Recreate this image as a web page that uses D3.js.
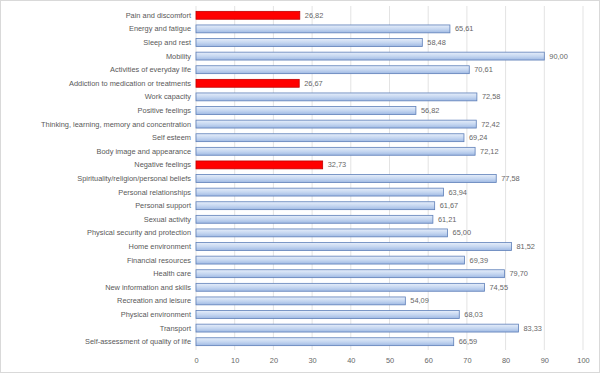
<!DOCTYPE html>
<html><head><meta charset="utf-8">
<script src="https://cdn.jsdelivr.net/npm/d3@7"></script>
<style>body{margin:0;background:#fff}svg{display:block}</style>
</head><body>
<script>
const categories = ["Pain and discomfort","Energy and fatigue","Sleep and rest","Mobility","Activities of everyday life","Addiction to medication or treatments","Work capacity","Positive feelings","Thinking, learning, memory and concentration","Self esteem","Body image and appearance","Negative feelings","Spirituality/religion/personal beliefs","Personal relationships","Personal support","Sexual activity","Physical security and protection","Home environment","Financial resources","Health care","New information and skills","Recreation and leisure","Physical environment","Transport","Self-assessment of quality of life"];
const values = [26.82,65.61,58.48,90.00,70.61,26.67,72.58,56.82,72.42,69.24,72.12,32.73,77.58,63.94,61.67,61.21,65.00,81.52,69.39,79.70,74.55,54.09,68.03,83.33,66.59];
const negative = ["Pain and discomfort","Addiction to medication or treatments","Negative feelings"];
const ticks = [0,10,20,30,40,50,60,70,80,90,100];

const W=600,H=373;
const svg=d3.select("body").append("svg").attr("width",W).attr("height",H);
svg.append("rect").attr("x",0.5).attr("y",0.5).attr("width",W-1).attr("height",H-1).attr("fill","#fff").attr("stroke","#d9d9d9");

const defs=svg.append("defs");
const g1=defs.append("linearGradient").attr("id","blue").attr("x1",0).attr("y1",0).attr("x2",0).attr("y2",1);
g1.append("stop").attr("offset","0%").attr("stop-color","#e6eefa");
g1.append("stop").attr("offset","55%").attr("stop-color","#c3d5f0");
g1.append("stop").attr("offset","100%").attr("stop-color","#9fb9e3");

const x=d3.scaleLinear().domain([0,100]).range([196,583]);
const y=d3.scaleBand().domain(categories).range([8.5,348.5]).paddingInner(0.42).paddingOuter(0.21);
const font="Liberation Sans, Arial, sans-serif";

svg.append("g").selectAll("line").data(ticks).join("line")
  .attr("x1",d=>x(d)).attr("x2",d=>x(d)).attr("y1",6).attr("y2",350)
  .attr("stroke","#e3e3e3").attr("stroke-width",1);

const ax=svg.append("g").attr("transform","translate(0,352)")
  .call(d3.axisBottom(x).tickValues(ticks).tickSize(0).tickPadding(6));
ax.select(".domain").remove();
ax.selectAll("text").attr("font-family",font).attr("font-size",7.4).attr("fill","#666");

const isNeg=d=>negative.includes(d);
const data=categories.map((c,i)=>({c,v:values[i]}));
svg.append("g").selectAll("rect").data(data).join("rect")
  .attr("x",x(0)).attr("y",d=>y(d.c)).attr("width",d=>x(d.v)-x(0)).attr("height",y.bandwidth())
  .attr("fill",d=>isNeg(d.c)?"#ff0000":"url(#blue)")
  .attr("stroke",d=>isNeg(d.c)?"#c00000":"#5e7fb8").attr("stroke-width",0.8);

svg.append("g").selectAll("text").data(data).join("text")
  .attr("x",d=>x(d.v)+5).attr("y",d=>y(d.c)+y.bandwidth()/2).attr("dy","0.35em")
  .attr("font-family",font).attr("font-size",7.4).attr("fill","#666")
  .text(d=>d3.format(".2f")(d.v).replace(".",","));

svg.append("g").selectAll("text").data(categories).join("text")
  .attr("x",191).attr("y",d=>y(d)+y.bandwidth()/2).attr("dy","0.35em").attr("text-anchor","end")
  .attr("font-family",font).attr("font-size",7.4).attr("fill","#595959")
  .text(d=>d);
</script>
</body></html>
